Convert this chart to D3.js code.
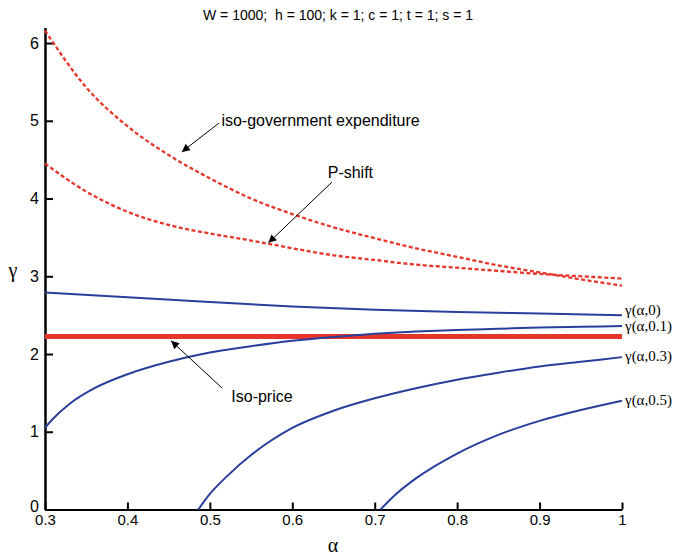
<!DOCTYPE html>
<html>
<head>
<meta charset="utf-8">
<script src="https://d3js.org/d3.v7.min.js"></script>
<style>
  body { margin: 0; background: #fff; }
  svg { display: block; font-family: "Liberation Sans", Arial, sans-serif; }
</style>
</head>
<body>
<div id="chart"></div>
<script>
// values
const titleText = 'W = 1000;  h = 100; k = 1; c = 1; t = 1; s = 1';
const xTicks = [0.3, 0.4, 0.5, 0.6, 0.7, 0.8, 0.9, 1];
const yTicks = [0, 1, 2, 3, 4, 5, 6];

const alphaDash = [0.3, 0.35, 0.4, 0.45, 0.5, 0.55, 0.6, 0.65, 0.7, 0.75, 0.8, 0.85, 0.9, 0.95, 1.0];
const isoGov = [6.16, 5.43, 4.93, 4.56, 4.26, 4.00, 3.80, 3.63, 3.49, 3.36, 3.25, 3.14, 3.05, 2.96, 2.88];
const pShift = [4.45, 4.09, 3.83, 3.66, 3.55, 3.46, 3.36, 3.27, 3.21, 3.15, 3.11, 3.07, 3.03, 3.00, 2.97];

const isoPriceAlpha = [0.3, 1.0];
const isoPrice = [2.225, 2.225];

const alphaG0 = [0.3, 0.4, 0.5, 0.6, 0.7, 0.8, 0.9, 1.0];
const g0 = [2.79, 2.73, 2.67, 2.61, 2.57, 2.54, 2.52, 2.50];

const alphaG01 = [0.3, 0.31, 0.33, 0.36, 0.4, 0.45, 0.5, 0.55, 0.6, 0.65, 0.7, 0.75, 0.8, 0.85, 0.9, 0.95, 1.0];
const g01 = [1.05, 1.17, 1.36, 1.56, 1.74, 1.90, 2.02, 2.10, 2.17, 2.22, 2.26, 2.29, 2.31, 2.325, 2.34, 2.35, 2.36];

const alphaG03 = [0.486, 0.5, 0.52, 0.55, 0.6, 0.65, 0.7, 0.75, 0.8, 0.85, 0.9, 0.95, 1.0];
const g03 = [0, 0.2, 0.42, 0.70, 1.05, 1.27, 1.43, 1.56, 1.67, 1.76, 1.84, 1.90, 1.96];

const alphaG05 = [0.707, 0.725, 0.75, 0.8, 0.85, 0.9, 0.95, 1.0];
const g05 = [0, 0.19, 0.40, 0.72, 0.96, 1.14, 1.28, 1.40];

const curveLabels = ['\u03b3(\u03b1,0)', '\u03b3(\u03b1,0.1)', '\u03b3(\u03b1,0.3)', '\u03b3(\u03b1,0.5)'];
const curveLabelY = [2.57, 2.36, 1.98, 1.41];

const RED = '#e6362a';
const BLUE = '#2a3f9c';

const width = 677, height = 556;
const svg = d3.select('#chart').append('svg')
    .attr('width', width)
    .attr('height', height);

const x = d3.scaleLinear().domain([0.3, 1]).range([45, 622]);
const y = d3.scaleLinear().domain([0, 6.2]).range([509.5, 27.5]);

const zip = (xs, ys) => xs.map((a, i) => [a, ys[i]]);
const line = d3.line().x(d => x(d[0])).y(d => y(d[1])).curve(d3.curveMonotoneX);

// title
svg.append('text')
    .attr('x', 338).attr('y', 20)
    .attr('text-anchor', 'middle')
    .style('font-size', '14px')
    .style('white-space', 'pre')
    .text(titleText);

// axes
const xAxis = svg.append('g')
    .attr('transform', `translate(0,${y(0)})`)
    .call(d3.axisBottom(x).tickValues(xTicks).tickSizeInner(-7).tickSizeOuter(0).tickPadding(5)
        .tickFormat(d => d === 1 ? '1' : d3.format('.1f')(d)));
xAxis.select('.domain').attr('stroke-width', 2);
xAxis.selectAll('.tick line').attr('stroke-width', 2);
xAxis.selectAll('text').style('font-size', '15px').attr('fill', '#000');

const yAxis = svg.append('g')
    .attr('transform', `translate(${x(0.3)},0)`)
    .call(d3.axisLeft(y).tickValues(yTicks).tickFormat(d3.format('d'))
        .tickSizeInner(-8).tickSizeOuter(0).tickPadding(6));
yAxis.select('.domain').attr('stroke-width', 2.5);
yAxis.selectAll('.tick line').attr('stroke-width', 2);
yAxis.selectAll('text').style('font-size', '16px').attr('fill', '#000');
yAxis.selectAll('.tick').filter(d => d === 0).select('text').attr('dy', '0.1em');

// axis labels
svg.append('text')
    .attr('x', 333).attr('y', 552)
    .attr('text-anchor', 'middle')
    .style('font-family', '"Liberation Serif", "Times New Roman", serif')
    .style('font-size', '20px')
    .text('\u03b1');
svg.append('text')
    .attr('x', 13).attr('y', 277)
    .attr('text-anchor', 'middle')
    .style('font-family', '"Liberation Serif", "Times New Roman", serif')
    .style('font-size', '20px')
    .text('\u03b3');

// curves
const plot = svg.append('g').attr('fill', 'none');

plot.append('path').attr('d', line(zip(isoPriceAlpha, isoPrice)))
    .attr('stroke', RED).attr('stroke-width', 5);

[isoGov, pShift].forEach(vals => {
    plot.append('path').attr('d', line(zip(alphaDash, vals)))
        .attr('stroke', RED).attr('stroke-width', 2.3)
        .attr('stroke-dasharray', '4,2.5');
});

[[alphaG0, g0], [alphaG01, g01], [alphaG03, g03], [alphaG05, g05]].forEach(([a, g]) => {
    plot.append('path').attr('d', line(zip(a, g)))
        .attr('stroke', BLUE).attr('stroke-width', 2);
});

// curve labels at the right
svg.selectAll('.clabel')
    .data(curveLabels)
    .enter()
    .append('text')
    .attr('x', x(1) + 3)
    .attr('y', (d, i) => y(curveLabelY[i]))
    .attr('dy', '0.35em')
    .style('font-family', '"Liberation Serif", "Times New Roman", serif')
    .style('font-size', '15px')
    .text(d => d);

// annotations with arrows
svg.append('defs').append('marker')
    .attr('id', 'arrow')
    .attr('viewBox', '0 0 10 10')
    .attr('refX', 10).attr('refY', 5)
    .attr('markerWidth', 11).attr('markerHeight', 8)
    .attr('markerUnits', 'userSpaceOnUse')
    .attr('orient', 'auto')
    .append('path').attr('d', 'M0,0L10,5L0,10z').attr('fill', '#000');

const notes = [
    { text: 'iso-government expenditure', tx: 0.514, ty: 5.01, from: [0.511, 4.97], to: [0.466, 4.60] },
    { text: 'P-shift', tx: 0.643, ty: 4.34, from: [0.648, 4.21], to: [0.571, 3.43] },
    { text: 'Iso-price', tx: 0.526, ty: 1.46, from: [0.515, 1.56], to: [0.453, 2.17] }
];

notes.forEach(n => {
    svg.append('line')
        .attr('x1', x(n.from[0])).attr('y1', y(n.from[1]))
        .attr('x2', x(n.to[0])).attr('y2', y(n.to[1]))
        .attr('stroke', '#000').attr('stroke-width', 1)
        .attr('marker-end', 'url(#arrow)');
    svg.append('text')
        .attr('x', x(n.tx)).attr('y', y(n.ty))
        .attr('dy', '0.35em')
        .style('font-size', '16px')
        .text(n.text);
});
</script>
</body>
</html>
